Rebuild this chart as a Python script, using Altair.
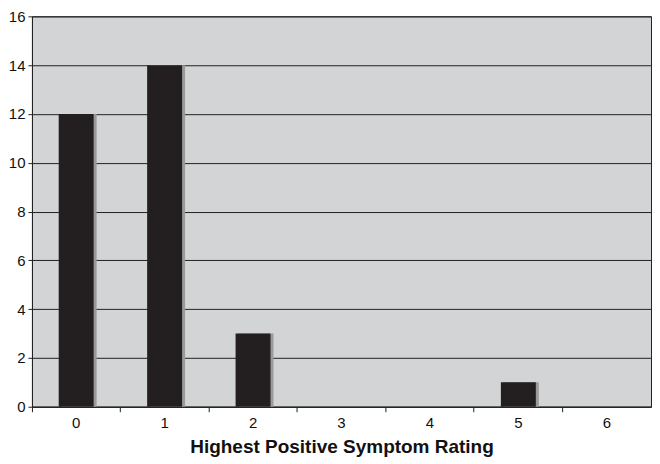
import altair as alt
import pandas as pd

ratings = ["0", "1", "2", "3", "4", "5", "6"]
counts = [12, 14, 3, 0, 0, 1, 0]
y_ticks = [0, 2, 4, 6, 8, 10, 12, 14, 16]

df = pd.DataFrame({"rating": ratings, "count": counts})

xscale = alt.Scale(type="band", domain=ratings, paddingInner=0, paddingOuter=0)
yscale = alt.Scale(domain=[0, 16], nice=False)

x_axis = alt.Axis(title="Highest Positive Symptom Rating", labelAngle=0,
                  bandPosition=0, tickSize=5, tickColor="#222",
                  domainColor="#222", labelFontSize=15, labelPadding=4,
                  titleFontSize=19, titleFontWeight="bold", titlePadding=7,
                  labelColor="#111", titleColor="#111", grid=False)
y_axis = alt.Axis(title=None, values=y_ticks, tickSize=4, tickColor="#222",
                  domainColor="#222", labelFontSize=15, labelPadding=3,
                  labelColor="#111", grid=True, gridColor="#222",
                  gridOpacity=1, gridWidth=1)

x_enc = alt.X("rating:N", scale=xscale, sort=ratings, axis=x_axis)
y_enc = alt.Y("count:Q", scale=yscale, axis=y_axis)

shadow = alt.Chart(df).mark_bar(size=35, xOffset=3, color="#9a9a9a").encode(x=x_enc, y=y_enc)
bars = alt.Chart(df).mark_bar(size=35, color="#231f20").encode(x=x_enc, y=y_enc)

chart = (
    alt.layer(shadow, bars)
    .properties(width=620, height=391, autosize=alt.AutoSizeParams(type="none"),
                padding={"left": 24, "top": 8, "right": 1, "bottom": 50})
    .configure_view(fill="#d3d4d5", stroke="#222", strokeWidth=1)
    .configure_axis(labelFont="Liberation Sans", titleFont="Liberation Sans")
)

chart.save("out.html", embed_options={"renderer": "svg", "actions": False})
